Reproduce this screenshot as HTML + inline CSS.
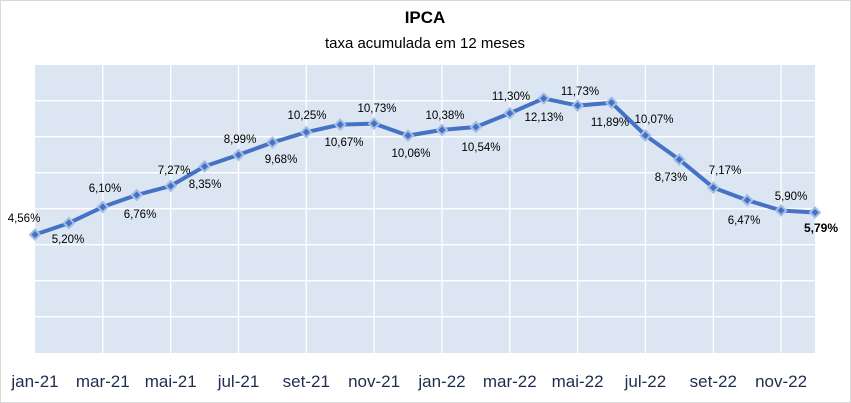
<!DOCTYPE html>
<html><head><meta charset="utf-8"><style>
html,body{margin:0;padding:0;background:#fff}
svg{display:block}
text{font-family:"Liberation Sans",sans-serif}
</style></head><body>
<svg width="851" height="403" viewBox="0 0 851 403" xmlns="http://www.w3.org/2000/svg">
<rect x="0.5" y="0.5" width="850" height="402" fill="#fff" stroke="#d9d9d9"/>
<text x="425" y="23" font-size="17" font-weight="bold" text-anchor="middle" fill="#000">IPCA</text>
<text x="425" y="48" font-size="15" text-anchor="middle" fill="#000">taxa acumulada em 12 meses</text>
<rect x="35" y="65" width="780" height="288" fill="#dce6f2"/>
<g stroke="#fff" stroke-width="1.3">
<line x1="35" x2="815" y1="100.7" y2="100.7"/><line x1="35" x2="815" y1="136.7" y2="136.7"/>
<line x1="35" x2="815" y1="172.7" y2="172.7"/><line x1="35" x2="815" y1="208.7" y2="208.7"/>
<line x1="35" x2="815" y1="244.7" y2="244.7"/><line x1="35" x2="815" y1="280.7" y2="280.7"/>
<line x1="35" x2="815" y1="316.7" y2="316.7"/>
<line x1="102.8" x2="102.8" y1="65" y2="353"/><line x1="170.7" x2="170.7" y1="65" y2="353"/>
<line x1="238.5" x2="238.5" y1="65" y2="353"/><line x1="306.3" x2="306.3" y1="65" y2="353"/>
<line x1="374.1" x2="374.1" y1="65" y2="353"/><line x1="442" x2="442" y1="65" y2="353"/>
<line x1="509.8" x2="509.8" y1="65" y2="353"/><line x1="577.6" x2="577.6" y1="65" y2="353"/>
<line x1="645.4" x2="645.4" y1="65" y2="353"/><line x1="713.3" x2="713.3" y1="65" y2="353"/>
<line x1="781.1" x2="781.1" y1="65" y2="353"/>
</g>
<polyline fill="none" stroke="#4472c4" stroke-width="4" stroke-linejoin="round" points="35,234.6 68.9,223.1 102.8,206.9 136.7,195 170.7,185.9 204.6,166.4 238.5,154.9 272.4,142.5 306.3,132.2 340.2,124.6 374.1,123.6 408,135.6 442,129.9 475.9,127 509.8,113.3 543.7,98.4 577.6,105.6 611.5,102.7 645.4,135.4 679.3,159.6 713.3,187.6 747.2,200.2 781.1,210.5 815,212.5"/>
<g fill="#4472c4" stroke="#a4bde6" stroke-width="2">
<path d="M35 229.6l5 5-5 5-5-5z"/><path d="M68.9 218.1l5 5-5 5-5-5z"/><path d="M102.8 201.9l5 5-5 5-5-5z"/>
<path d="M136.7 190l5 5-5 5-5-5z"/><path d="M170.7 180.9l5 5-5 5-5-5z"/><path d="M204.6 161.4l5 5-5 5-5-5z"/>
<path d="M238.5 149.9l5 5-5 5-5-5z"/><path d="M272.4 137.5l5 5-5 5-5-5z"/><path d="M306.3 127.2l5 5-5 5-5-5z"/>
<path d="M340.2 119.6l5 5-5 5-5-5z"/><path d="M374.1 118.6l5 5-5 5-5-5z"/><path d="M408 130.6l5 5-5 5-5-5z"/>
<path d="M442 124.9l5 5-5 5-5-5z"/><path d="M475.9 122l5 5-5 5-5-5z"/><path d="M509.8 108.3l5 5-5 5-5-5z"/>
<path d="M543.7 93.4l5 5-5 5-5-5z"/><path d="M577.6 100.6l5 5-5 5-5-5z"/><path d="M611.5 97.7l5 5-5 5-5-5z"/>
<path d="M645.4 130.4l5 5-5 5-5-5z"/><path d="M679.3 154.6l5 5-5 5-5-5z"/><path d="M713.3 182.6l5 5-5 5-5-5z"/>
<path d="M747.2 195.2l5 5-5 5-5-5z"/><path d="M781.1 205.5l5 5-5 5-5-5z"/><path d="M815 207.5l5 5-5 5-5-5z"/>
</g>
<g font-size="11.5" fill="#000" text-anchor="middle">
<text x="24" y="222">4,56%</text><text x="68" y="243">5,20%</text><text x="105" y="192">6,10%</text>
<text x="140" y="218">6,76%</text><text x="174" y="174">7,27%</text><text x="205" y="188">8,35%</text>
<text x="240" y="143">8,99%</text><text x="281" y="163">9,68%</text><text x="307" y="119">10,25%</text>
<text x="344" y="146">10,67%</text><text x="377" y="112">10,73%</text><text x="411" y="157">10,06%</text>
<text x="445" y="119">10,38%</text><text x="481" y="151">10,54%</text><text x="511" y="100">11,30%</text>
<text x="544" y="121">12,13%</text><text x="580" y="95">11,73%</text><text x="610" y="126">11,89%</text>
<text x="654" y="123">10,07%</text><text x="671" y="181">8,73%</text><text x="725" y="174">7,17%</text>
<text x="744" y="224">6,47%</text><text x="791" y="200">5,90%</text>
<text x="821" y="232" font-weight="bold" font-size="12">5,79%</text>
</g>
<g font-size="17" fill="#1f2d4f" text-anchor="middle">
<text x="35" y="387">jan-21</text><text x="102.8" y="387">mar-21</text><text x="170.7" y="387">mai-21</text>
<text x="238.5" y="387">jul-21</text><text x="306.3" y="387">set-21</text><text x="374.1" y="387">nov-21</text>
<text x="442" y="387">jan-22</text><text x="509.8" y="387">mar-22</text><text x="577.6" y="387">mai-22</text>
<text x="645.4" y="387">jul-22</text><text x="713.3" y="387">set-22</text><text x="781.1" y="387">nov-22</text>
</g>
</svg>
</body></html>
